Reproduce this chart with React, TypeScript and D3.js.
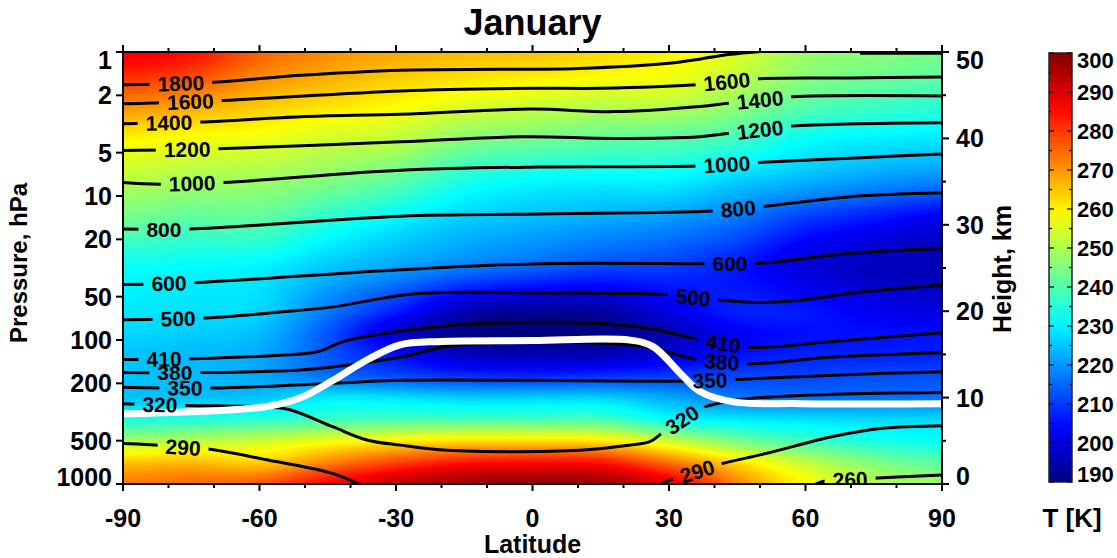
import { useMemo } from 'react';
import * as d3 from 'd3';

// grid of zonal-mean temperature, January
const LATS = [-90, -75, -60, -45, -30, -15, 0, 15, 30, 45, 60, 75, 90];
const HEIGHTS = [0, 2.5, 5, 7.5, 10, 12.5, 15, 17.5, 20, 25, 30, 35, 40, 45, 50];
// one row per height (km), south pole -> north pole, in K
const TEMPERATURE = [
  [273, 275, 277, 286, 293, 297, 298, 297, 289, 272, 259, 251, 247],
  [265, 266, 264, 272, 279, 284, 285, 284, 274, 262, 252, 245, 241],
  [249, 251, 253, 257, 260, 262, 262, 261, 253, 244, 238, 234, 232],
  [234, 235, 236, 238, 239, 239, 239, 239, 232, 229, 228, 227, 227],
  [225, 225, 225, 229, 228, 226, 226, 226, 222, 217, 216, 216, 216],
  [225, 224, 222, 216, 212, 209, 208, 209, 210, 211, 211, 212, 212],
  [225, 224, 222, 213, 205, 197, 196, 196, 200, 205, 207, 207, 207],
  [227, 226, 224, 213, 199, 191, 190, 191, 196, 203, 205, 205, 205],
  [229, 228, 227, 217, 207, 196, 193, 194, 201, 207, 206, 202, 200],
  [232, 231, 230, 225, 221, 217, 214, 211, 210, 206, 200, 197, 196],
  [242, 240, 240, 234, 229, 225, 223, 221, 219, 215, 208, 204, 200],
  [251, 249, 248, 245, 241, 234, 231, 230, 230, 226, 223, 220, 218],
  [260, 258, 257, 254, 252, 246, 244, 242, 241, 238, 232, 230, 229],
  [275, 272, 267, 264, 261, 258, 256, 254, 254, 249, 243, 240, 238],
  [288, 285, 276, 271, 268, 266, 265, 263, 260, 255, 248, 246, 244],
];

// potential temperature contours: [latitude, height km]
const theta1800 = [[-90, 46.2], [-70, 46.5], [-51, 47.3], [-29, 47.9], [-7, 48.0], [10, 48.1], [30, 48.7], [37, 49.2], [43, 49.7], [51, 50.1]];
const theta1800b = [[72, 49.85], [80, 49.85], [90, 49.85]];
const theta1600 = [[-90, 44.0], [-68, 44.4], [-29, 45.5], [-0.5, 45.8], [15, 45.8], [36, 46.2], [49, 46.9], [70, 47.0], [90, 47.1]];
const theta1400 = [[-90, 41.7], [-73, 41.9], [-51, 42.5], [-29, 42.8], [-0.5, 43.4], [17.7, 43.1], [36.8, 43.7], [43.4, 44.1], [56.6, 44.8], [90, 44.9]];
const theta1200 = [[-90, 38.6], [-69.3, 38.8], [-29, 39.6], [-2, 40.2], [17.7, 40.0], [36.8, 40.2], [43.4, 40.6], [56.6, 41.4], [90, 41.8]];
const theta1000 = [[-90, 34.9], [-82, 34.7], [-68, 34.9], [-29, 36.3], [1.6, 36.7], [36.2, 36.8], [49.3, 37.2], [73.5, 37.8], [90, 38.2]];
const theta800 = [[-90, 29.5], [-75.3, 29.5], [-29, 31.0], [1.6, 31.25], [39.7, 31.6], [50.4, 32.1], [69.8, 33.25], [90, 33.7]];
const theta600 = [[-90, 23.1], [-74.6, 23.3], [-29, 24.8], [1.6, 25.5], [38.4, 25.5], [48.9, 25.5], [69.8, 26.7], [90, 27.3]];
const theta500 = [[-90, 19.0], [-72.4, 19.2], [-55.5, 19.9], [-43.8, 20.5], [-26.3, 22.0], [3.2, 22.1], [30.2, 21.9], [40.8, 21.3], [50, 21.0], [57.3, 21.2], [73.5, 22.3], [90, 23.0]];
const theta410 = [[-90, 14.4], [-74.6, 14.5], [-55.5, 14.9], [-47.4, 15.3], [-41, 16.6], [-29, 17.7], [-15, 18.5], [0, 18.7], [14, 18.6], [25.8, 18.0], [36.8, 16.7], [47.4, 15.8], [66, 16.5], [90, 17.5]];
const theta380 = [[-90, 12.9], [-72.4, 12.9], [-51, 13.2], [-40, 13.8], [-29, 14.7], [-18, 16.0], [0, 16.4], [25, 15.9], [30.2, 15.2], [36.8, 14.35], [47.1, 13.9], [66, 14.7], [90, 15.2]];
const theta350 = [[-90, 11.2], [-70.2, 11.1], [-43.8, 11.65], [-29, 12.0], [0, 12.0], [33, 11.9], [44.9, 12.1], [66, 12.6], [90, 13.0]];
const theta320 = [[-90, 9.3], [-75.9, 9.1], [-58.4, 8.9], [-53.3, 8.6], [-43.8, 6.6], [-36.4, 5.1], [-29, 4.5], [-18.8, 3.9], [10.4, 3.9], [21.4, 4.5], [25.8, 4.9], [28.5, 5.9], [36.2, 8.6], [40.5, 9.3], [47.8, 9.9], [66, 10.4], [90, 10.6]];
const theta290a = [[-90, 4.7], [-71.3, 4.05], [-58.4, 2.8], [-43.8, 1.2], [-37, -0.3]];
const theta290b = [[27.5, -0.3], [30.2, 0.46], [40.5, 2.2], [51.5, 3.55], [66, 5.5], [77, 6.45], [90, 6.75]];
const theta260 = [[61, -0.3], [64.7, 0.4], [74.8, 0.66], [90, 1.04]];

// thermal tropopause
const TROPOPAUSE = [[-90, 8.1], [-65.8, 8.6], [-58.4, 8.95], [-51.1, 9.95], [-43.8, 12.0], [-36.4, 14.35], [-29.1, 16.1], [-20.3, 16.5], [0, 16.6], [21.4, 16.65], [26.5, 15.9], [32.4, 12.85], [36.8, 10.7], [44.1, 9.5], [58.8, 9.3], [90, 9.3]];

const CONTOURS = [
  { level: 1800, pts: theta1800, labels: [-77.3] },
  { level: 1800, pts: theta1800b, labels: [] },
  { level: 1600, pts: theta1600, labels: [-75.2, 42.7] },
  { level: 1400, pts: theta1400, labels: [-79.9, 50] },
  { level: 1200, pts: theta1200, labels: [-75.9, 50] },
  { level: 1000, pts: theta1000, labels: [-74.8, 42.7] },
  { level: 800, pts: theta800, labels: [-81, 45.2] },
  { level: 600, pts: theta600, labels: [-79.9, 43.4] },
  { level: 500, pts: theta500, labels: [-77.9, 35.3] },
  { level: 410, pts: theta410, labels: [-81, 41.9] },
  { level: 380, pts: theta380, labels: [-78.6, 41.6] },
  { level: 350, pts: theta350, labels: [-76.4, 39] },
  { level: 320, pts: theta320, labels: [-81.9, 32.9] },
  { level: 290, pts: theta290a, labels: [-76.8] },
  { level: 290, pts: theta290b, labels: [36.2] },
  { level: 260, pts: theta260, labels: [69.8] },
];

const PRESSURE_TICKS = [1, 2, 5, 10, 20, 50, 100, 200, 500, 1000];
const HEIGHT_TICKS = [0, 10, 20, 30, 40, 50];
const LAT_TICKS = [-90, -60, -30, 0, 30, 60, 90];
const T_TICKS = [190, 200, 210, 220, 230, 240, 250, 260, 270, 280, 290, 300];

const W = 1117;
const H = 558;
const M = { left: 123, right: 942, top: 52, bottom: 484 };
const CB = { left: 1049, right: 1072, top: 53, bottom: 482 };
const FONT = "'Liberation Sans', Arial, Helvetica, sans-serif";

const x = d3.scaleLinear().domain([-90, 90]).range([M.left, M.right]);
const yH = d3.scaleLinear().domain([0, 50]).range([M.bottom, M.top]);
const yP = d3.scaleLog().domain([1, 1000]).range([M.top, M.bottom]);
const yT = d3.scaleLinear().domain([190, 300]).range([CB.bottom, CB.top]);

const jet = d3
  .scaleLinear<string>()
  .domain([190, 203.75, 231.25, 258.75, 286.25, 300])
  .range(['#000080', '#0000ff', '#00ffff', '#ffff00', '#ff0000', '#800000'])
  .clamp(true);

const clampv = (v: number, a: number, b: number) => Math.max(a, Math.min(b, v));

// Catmull-Rom cubic through p1..p2
const cubic = (p0: number, p1: number, p2: number, p3: number, t: number) =>
  0.5 *
  (2 * p1 +
    (-p0 + p2) * t +
    (2 * p0 - 5 * p1 + 4 * p2 - p3) * t * t +
    (-p0 + 3 * p1 - 3 * p2 + p3) * t * t * t);

const latIndex = d3.scaleLinear().domain(LATS).range(LATS.map((_, i) => i)).clamp(true);
const hIndex = d3.scaleLinear().domain(HEIGHTS).range(HEIGHTS.map((_, i) => i)).clamp(true);

function tempAt(lat: number, h: number) {
  const fi = latIndex(lat);
  const fj = hIndex(h);
  const i = clampv(Math.floor(fi), 0, LATS.length - 2);
  const j = clampv(Math.floor(fj), 0, HEIGHTS.length - 2);
  const tx = fi - i;
  const ty = fj - j;
  const ci = (k: number) => clampv(k, 0, LATS.length - 1);
  const cj = (k: number) => clampv(k, 0, HEIGHTS.length - 1);
  const rows = [-1, 0, 1, 2].map((dj) => {
    const r = TEMPERATURE[cj(j + dj)];
    return cubic(r[ci(i - 1)], r[ci(i)], r[ci(i + 1)], r[ci(i + 2)], tx);
  });
  return cubic(rows[0], rows[1], rows[2], rows[3], ty);
}

// position + angle of a label sitting on the polyline at latitude `lat`
function labelAt(pts: number[][], lat: number) {
  let k = 0;
  while (k < pts.length - 2 && pts[k + 1][0] < lat) k++;
  const [la, ha] = pts[k];
  const [lb, hb] = pts[k + 1];
  const t = (lat - la) / (lb - la);
  const px = x(lat);
  const py = yH(ha + (hb - ha) * t);
  const ang = (Math.atan2(yH(hb) - yH(ha), x(lb) - x(la)) * 180) / Math.PI;
  return { px, py, ang };
}

const line = d3
  .line<number[]>()
  .x((d) => x(d[0]))
  .y((d) => yH(d[1]))
  .curve(d3.curveCatmullRom.alpha(0.5));

export default function App() {
  const heatmap = useMemo(() => {
    const w = M.right - M.left;
    const h = M.bottom - M.top;
    const canvas = document.createElement('canvas');
    canvas.width = w;
    canvas.height = h;
    const ctx = canvas.getContext('2d');
    if (!ctx) return '';
    const img = ctx.createImageData(w, h);
    const lut = d3.range(0, 1101).map((k) => d3.rgb(jet(190 + k / 10)));
    for (let j = 0; j < h; j++) {
      const hk = yH.invert(M.top + j + 0.5);
      for (let i = 0; i < w; i++) {
        const lat = x.invert(M.left + i + 0.5);
        const c = lut[clampv(Math.round((tempAt(lat, hk) - 190) * 10), 0, 1100)];
        const o = (j * w + i) * 4;
        img.data[o] = c.r;
        img.data[o + 1] = c.g;
        img.data[o + 2] = c.b;
        img.data[o + 3] = 255;
      }
    }
    ctx.putImageData(img, 0, 0);
    return canvas.toDataURL();
  }, []);

  const labels = CONTOURS.flatMap((c) =>
    c.labels.map((lat) => ({ ...labelAt(c.pts, lat), text: String(c.level) })),
  );
  const fs = 21;
  const textW = (s: string) => s.length * 0.556 * fs;

  const latMinor = d3.range(-90, 91, 10).filter((v) => v % 30 !== 0);
  const hMinor = d3.range(5, 50, 10);
  const tMinor = d3.range(195, 300, 10);

  return (
    <div style={{ position: 'absolute', left: 0, top: 0 }}>
      <svg width={W} height={H} style={{ display: 'block' }} fontFamily={FONT} fontWeight="bold">
        <defs>
          <clipPath id="plot">
            <rect x={M.left} y={M.top} width={M.right - M.left} height={M.bottom - M.top} />
          </clipPath>
          <mask id="gaps" maskUnits="userSpaceOnUse" x={0} y={0} width={W} height={H}>
            <rect x={0} y={0} width={W} height={H} fill="white" />
            {labels.map((l, i) => (
              <rect
                key={i}
                x={-textW(l.text) / 2 - 8}
                y={-10}
                width={textW(l.text) + 16}
                height={20}
                fill="black"
                transform={`translate(${l.px},${l.py}) rotate(${l.ang})`}
              />
            ))}
          </mask>
          <linearGradient id="cbar" x1="0" y1="1" x2="0" y2="0">
            {d3.range(190, 301, 5).map((t) => (
              <stop key={t} offset={(t - 190) / 110} stopColor={jet(t)} />
            ))}
          </linearGradient>
        </defs>

        <text x={(M.left + M.right) / 2} y={35} fontSize={36} textAnchor="middle">
          January
        </text>

        {heatmap && (
          <image
            href={heatmap}
            x={M.left}
            y={M.top}
            width={M.right - M.left}
            height={M.bottom - M.top}
            preserveAspectRatio="none"
          />
        )}

        <g clipPath="url(#plot)">
          <g mask="url(#gaps)">
            {CONTOURS.map((c, i) => (
              <path key={i} d={line(c.pts) ?? ''} fill="none" stroke="#000" strokeWidth={3} />
            ))}
          </g>
          <path d={line(TROPOPAUSE) ?? ''} fill="none" stroke="#fff" strokeWidth={7} />
          {labels.map((l, i) => (
            <text
              key={i}
              fontSize={fs}
              textAnchor="middle"
              dy="0.36em"
              transform={`translate(${l.px},${l.py}) rotate(${l.ang})`}
            >
              {l.text}
            </text>
          ))}
        </g>

        {/* frame */}
        <rect
          x={M.left}
          y={M.top}
          width={M.right - M.left}
          height={M.bottom - M.top}
          fill="none"
          stroke="#000"
          strokeWidth={2}
        />

        {/* latitude axis, bottom + top; pressure left; height right */}
        <g stroke="#000" strokeWidth={2}>
          {LAT_TICKS.map((v) => (
            <g key={v}>
              <line x1={x(v)} x2={x(v)} y1={M.bottom} y2={M.bottom + 7} />
              <line x1={x(v)} x2={x(v)} y1={M.top} y2={M.top - 7} />
            </g>
          ))}
          {latMinor.map((v) => (
            <g key={v}>
              <line x1={x(v)} x2={x(v)} y1={M.bottom} y2={M.bottom + 4} />
              <line x1={x(v)} x2={x(v)} y1={M.top} y2={M.top - 4} />
            </g>
          ))}
          {PRESSURE_TICKS.map((p) => (
            <line key={p} x1={M.left - 7} x2={M.left} y1={yP(p)} y2={yP(p)} />
          ))}
          {HEIGHT_TICKS.map((h) => (
            <line key={h} x1={M.right} x2={M.right + 7} y1={yH(h)} y2={yH(h)} />
          ))}
          {hMinor.map((h) => (
            <line key={h} x1={M.right} x2={M.right + 4} y1={yH(h)} y2={yH(h)} />
          ))}
        </g>

        <g fontSize={25}>
          {LAT_TICKS.map((v) => (
            <text key={v} x={x(v)} y={527} textAnchor="middle">
              {v}
            </text>
          ))}
          {PRESSURE_TICKS.map((p) => (
            <text
              key={p}
              x={112}
              y={clampv(yP(p), M.top + 8, M.bottom - 7)}
              dy="0.36em"
              textAnchor="end"
            >
              {p}
            </text>
          ))}
          {HEIGHT_TICKS.map((h) => (
            <text key={h} x={956} y={clampv(yH(h), M.top + 8, M.bottom - 8)} dy="0.36em">
              {h}
            </text>
          ))}
          <text x={(M.left + M.right) / 2} y={553} textAnchor="middle">
            Latitude
          </text>
          <text transform="translate(27,263) rotate(-90)" textAnchor="middle" fontSize={24}>
            Pressure, hPa
          </text>
          <text transform="translate(1011,269) rotate(-90)" textAnchor="middle">
            Height, km
          </text>
        </g>

        {/* colour bar */}
        <rect
          x={CB.left}
          y={CB.top}
          width={CB.right - CB.left}
          height={CB.bottom - CB.top}
          fill="url(#cbar)"
          stroke="#222"
          strokeWidth={1.5}
        />
        <g stroke="#111" strokeWidth={1.3}>
          {T_TICKS.map((t) => (
            <g key={t}>
              <line x1={CB.left} x2={CB.left + 5} y1={yT(t)} y2={yT(t)} />
              <line x1={CB.right - 5} x2={CB.right} y1={yT(t)} y2={yT(t)} />
            </g>
          ))}
          {tMinor.map((t) => (
            <g key={t}>
              <line x1={CB.left} x2={CB.left + 3} y1={yT(t)} y2={yT(t)} />
              <line x1={CB.right - 3} x2={CB.right} y1={yT(t)} y2={yT(t)} />
            </g>
          ))}
        </g>
        <g fontSize={22}>
          {T_TICKS.map((t) => (
            <text key={t} x={1077} y={clampv(yT(t), CB.top + 7, CB.bottom - 8)} dy="0.36em">
              {t}
            </text>
          ))}
        </g>
        <text x={1072} y={527} fontSize={26} textAnchor="middle">
          T [K]
        </text>
      </svg>
    </div>
  );
}
